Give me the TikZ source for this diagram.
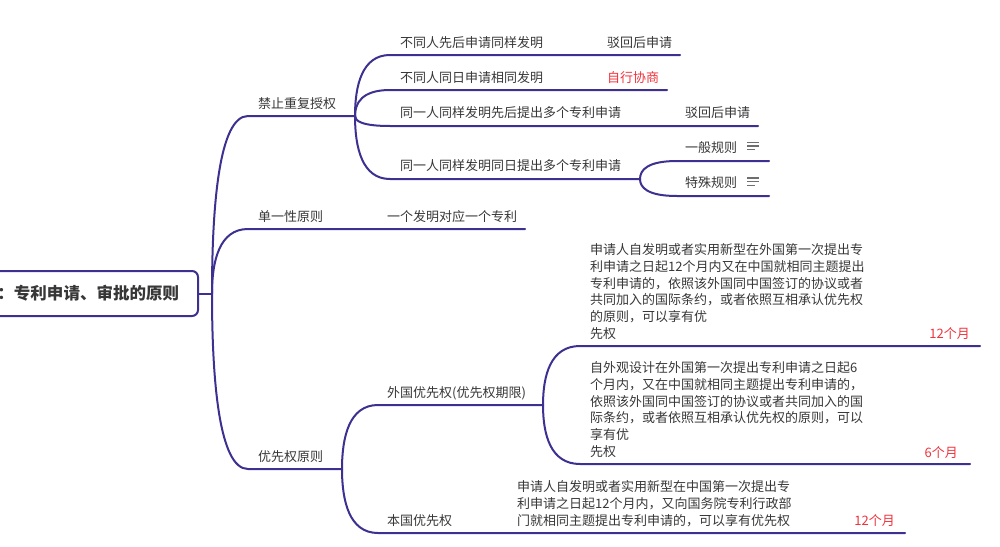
\documentclass[tikz,border=0pt]{standalone}
\usepackage{fontspec}
\setmainfont{Noto Sans CJK SC}
\usetikzlibrary{calc}
\definecolor{ln}{RGB}{60,48,145}
\definecolor{tx}{RGB}{55,55,55}
\definecolor{rd}{RGB}{240,50,60}
\definecolor{ic}{RGB}{110,110,110}
\begin{document}
\begin{tikzpicture}[x=1pt,y=-1pt,
  conn/.style={draw=ln,line width=2pt,line cap=round},
  branch/.style={to path={.. controls ($(\tikztostart)!0.5!(\tikztostart|-\tikztotarget)$) and ($(\tikztostart|-\tikztotarget)!0.2!(\tikztotarget)$) .. (\tikztotarget)}},
  lbl/.style={anchor=base west,inner sep=0pt,text=tx,font=\fontsize{13}{16.7}\selectfont},
  redlbl/.style={inner sep=0pt,anchor=base east,text=rd,font=\fontsize{13}{16.7}\selectfont},
  blk/.style={lbl,anchor=north west,align=left},
  note/.style={draw=ic,line width=1.3pt},
]
\useasboundingbox (0,0) rectangle (1000,546);

% root
\node[draw=ln,line width=2pt,rounded corners=6pt,anchor=east,minimum width=211pt,minimum height=45pt,
      inner xsep=10.5pt,text width=190pt,align=right,text=tx,font=\fontsize{16.5}{20}\selectfont\bfseries]
      (root) at (199,293.5) {：专利申请、审批的原则\kern14pt};
\coordinate (T) at (212,293.5);
\draw[conn] (root.east) -- (T);

% level 1
\coordinate (A0) at (248,116); \coordinate (A1) at (355,116);
\coordinate (B0) at (248,229); \coordinate (B1) at (378,229); \coordinate (B2) at (525,229);
\coordinate (C0) at (248,469); \coordinate (C1) at (342,469);
\draw[conn] (T) to[branch] (A0) -- (A1);
\draw[conn] (T) to[branch] (B0) -- (B1) -- (B2);
\draw[conn] (T) to[branch] (C0) -- (C1);
\node[lbl] (a) at (258,108.5) {禁止重复授权};
\node[lbl] (b) at (258,221) {单一性原则};
\node[lbl] (c) at (258,461) {优先权原则};
\node[lbl] (b1) at (387,221) {一个发明对应一个专利};

% A children
\coordinate (A10) at (390,55); \coordinate (A11) at (598,55); \coordinate (A12) at (680,55);
\coordinate (A20) at (390,90); \coordinate (A21) at (598,90); \coordinate (A22) at (667,90);
\coordinate (A30) at (390,126); \coordinate (A31) at (677,126); \coordinate (A32) at (758,126);
\coordinate (A40) at (390,179); \coordinate (A41) at (640,179);
\coordinate (A4a0) at (677,161); \coordinate (A4a1) at (769,161);
\coordinate (A4b0) at (677,196); \coordinate (A4b1) at (769,196);
\draw[conn] (A1) to[branch] (A10) -- (A11) -- (A12);
\draw[conn] (A1) to[branch] (A20) -- (A21) -- (A22);
\draw[conn] (A1) to[branch] (A30) -- (A31) -- (A32);
\draw[conn] (A1) to[branch] (A40) -- (A41);
\draw[conn] (A41) to[branch] (A4a0) -- (A4a1);
\draw[conn] (A41) to[branch] (A4b0) -- (A4b1);
\node[lbl] (a1) at (400,47) {不同人先后申请同样发明};
\node[lbl] (a1a) at (607,47) {驳回后申请};
\node[lbl] (a2) at (400,82) {不同人同日申请相同发明};
\node[lbl,text=rd] (a2a) at (607,82) {自行协商};
\node[lbl] (a3) at (400,117.5) {同一人同样发明先后提出多个专利申请};
\node[lbl] (a3a) at (685,117.5) {驳回后申请};
\node[lbl] (a4) at (400,170.5) {同一人同样发明同日提出多个专利申请};
\node[lbl] (a4a) at (685,152.5) {一般规则};
\node[lbl] (a4b) at (685,187.5) {特殊规则};
% note icons
\draw[note] (747,142.3) -- (759.3,142.3) (747,146) -- (759.3,146) (747,149.7) -- (754.7,149.7);
\draw[note] (747,178) -- (759.3,178) (747,181.8) -- (759.3,181.8) (747,185.6) -- (754.7,185.6);

% C children
\coordinate (C10) at (378,405); \coordinate (C11) at (543,405);
\coordinate (C20) at (378,533); \coordinate (C21) at (505,533); \coordinate (C22) at (905,533);
\coordinate (C1a0) at (580,346); \coordinate (C1a1) at (980,346);
\coordinate (C1b0) at (580,464); \coordinate (C1b1) at (970,464);
\draw[conn] (C1) to[branch] (C10) -- (C11);
\draw[conn] (C1) to[branch] (C20) -- (C21) -- (C22);
\draw[conn] (C11) to[branch] (C1a0) -- (C1a1);
\draw[conn] (C11) to[branch] (C1b0) -- (C1b1);
\node[lbl] (c1) at (387,397) {外国优先权(优先权期限)};
\node[lbl] (c2) at (387,525) {本国优先权};
\node[blk] (c1a) at (590,243.5) {申请人自发明或者实用新型在外国第一次提出专\\利申请之日起12个月内又在中国就相同主题提出\\专利申请的，依照该外国同中国签订的协议或者\\共同加入的国际条约，或者依照互相承认优先权\\的原则，可以享有优\\先权};
\node[redlbl] (c1am) at (970,338) {12个月};
\node[blk] (c1b) at (590,361.5) {自外观设计在外国第一次提出专利申请之日起6\\个月内，又在中国就相同主题提出专利申请的，\\依照该外国同中国签订的协议或者共同加入的国\\际条约，或者依照互相承认优先权的原则，可以\\享有优\\先权};
\node[redlbl] (c1bm) at (958,457) {6个月};
\node[blk] (c2a) at (517,480.5) {申请人自发明或者实用新型在中国第一次提出专\\利申请之日起12个月内，又向国务院专利行政部\\门就相同主题提出专利申请的，可以享有优先权};
\node[redlbl] (c2am) at (895,525) {12个月};
\end{tikzpicture}
\end{document}
